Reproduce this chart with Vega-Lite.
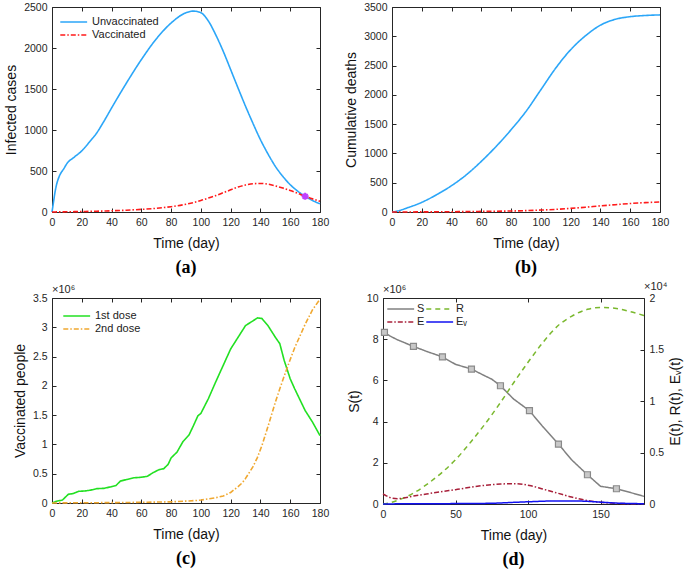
{
  "$schema": "https://vega.github.io/schema/vega-lite/v6.json",
  "padding": {"left": 4, "top": 1, "right": 5, "bottom": 3},
  "background": "white",
  "config": {
    "font": "Liberation Sans",
    "numberFormat": "d",
    "view": {"stroke": "#262626", "strokeWidth": 1},
    "axis": {"domain": false, "grid": false, "tickSize": -4, "tickColor": "#262626", "tickWidth": 1, "labelFlush": false,
      "labelFont": "Liberation Sans", "labelFontSize": 10.5, "labelColor": "#262626", "labelPadding": 9,
      "titleFont": "Liberation Sans", "titleFontSize": 14, "titleFontWeight": "normal", "titleColor": "#111", "titlePadding": 5},
    "axisX": {"titlePadding": 9},
    "legend": {"orient": "top-left", "symbolType": "M-1,0H3", "symbolSize": 180, "symbolStrokeWidth": 1.6,
      "labelFont": "Liberation Sans", "labelFontSize": 11, "labelColor": "#222", "rowPadding": 0, "offset": 7, "padding": 0, "labelOffset": 17},
    "title": {"orient": "bottom", "font": "Liberation Serif", "fontSize": 18, "fontWeight": "bold", "color": "#000", "offset": 8}
  },
  "resolve": {"scale": {"color": "independent", "strokeDash": "independent"}, "legend": {"color": "independent", "strokeDash": "independent"}},
  "vconcat": [
    {
      "resolve": {"scale": {"color": "independent", "strokeDash": "independent"}, "legend": {"color": "independent", "strokeDash": "independent"}},
      "hconcat": [
        {
          "width": 268, "height": 205,
          "title": {"text": "(a)"},
          "data": {"values": [
            {"t":0,"Unvaccinated":0,"Vaccinated":0},{"t":1,"Unvaccinated":120,"Vaccinated":0},{"t":2,"Unvaccinated":240,"Vaccinated":0.5},
            {"t":3,"Unvaccinated":330,"Vaccinated":1},{"t":5,"Unvaccinated":440,"Vaccinated":1},{"t":8,"Unvaccinated":530,"Vaccinated":2},
            {"t":10,"Unvaccinated":590,"Vaccinated":3},{"t":15,"Unvaccinated":670,"Vaccinated":4},{"t":20,"Unvaccinated":745,"Vaccinated":6},
            {"t":25,"Unvaccinated":850,"Vaccinated":8},{"t":30,"Unvaccinated":963,"Vaccinated":10},{"t":35,"Unvaccinated":1110,"Vaccinated":12},
            {"t":40,"Unvaccinated":1268,"Vaccinated":15},{"t":50,"Unvaccinated":1573,"Vaccinated":22},{"t":60,"Unvaccinated":1858,"Vaccinated":32},
            {"t":70,"Unvaccinated":2110,"Vaccinated":45},{"t":80,"Unvaccinated":2305,"Vaccinated":65},{"t":90,"Unvaccinated":2430,"Vaccinated":95},
            {"t":95,"Unvaccinated":2450,"Vaccinated":115},{"t":100,"Unvaccinated":2430,"Vaccinated":140},{"t":105,"Unvaccinated":2330,"Vaccinated":170},
            {"t":110,"Unvaccinated":2160,"Vaccinated":200},{"t":115,"Unvaccinated":1960,"Vaccinated":235},{"t":120,"Unvaccinated":1736,"Vaccinated":270},
            {"t":125,"Unvaccinated":1510,"Vaccinated":305},{"t":130,"Unvaccinated":1289,"Vaccinated":330},{"t":135,"Unvaccinated":1080,"Vaccinated":345},
            {"t":140,"Unvaccinated":882,"Vaccinated":348},{"t":145,"Unvaccinated":710,"Vaccinated":340},{"t":150,"Unvaccinated":557,"Vaccinated":318},
            {"t":155,"Unvaccinated":435,"Vaccinated":292},{"t":160,"Unvaccinated":333,"Vaccinated":262},{"t":165,"Unvaccinated":255,"Vaccinated":228},
            {"t":170,"Unvaccinated":191,"Vaccinated":191},{"t":175,"Unvaccinated":140,"Vaccinated":160},{"t":180,"Unvaccinated":100,"Vaccinated":130}
          ]},
          "layer": [
            {
              "transform": [{"fold": ["Unvaccinated", "Vaccinated"], "as": ["series", "value"]}],
              "mark": {"type": "line", "strokeWidth": 1.6, "interpolate": "monotone"},
              "encoding": {
                "x": {"field": "t", "type": "quantitative", "scale": {"domain": [0, 180], "nice": false}, "axis": {"values": [0,20,40,60,80,100,120,140,160,180], "title": "Time (day)"}},
                "y": {"field": "value", "type": "quantitative", "scale": {"domain": [0, 2500], "nice": false}, "axis": {"values": [0,500,1000,1500,2000,2500], "title": "Infected cases"}},
                "color": {"field": "series", "type": "nominal", "scale": {"domain": ["Unvaccinated", "Vaccinated"], "range": ["#2BA6F8", "#FF1A1A"]}, "legend": {"title": null}},
                "strokeDash": {"field": "series", "type": "nominal", "scale": {"domain": ["Unvaccinated", "Vaccinated"], "range": [[1, 0], [5, 2, 1.5, 2]]}, "legend": {"title": null}}
              }
            },
            {
              "mark": {"type": "point", "opacity": 0},
              "encoding": {
                "x": {"field": "t", "type": "quantitative", "scale": {"domain": [0, 180], "nice": false}, "axis": {"orient": "top", "values": [0,20,40,60,80,100,120,140,160,180], "labels": false, "title": null}},
                "y": {"field": "Unvaccinated", "type": "quantitative", "scale": {"domain": [0, 2500], "nice": false}, "axis": {"orient": "right", "values": [0,500,1000,1500,2000,2500], "labels": false, "title": null}}
              }
            },
            {
              "transform": [{"filter": "datum.t == 170"}],
              "mark": {"type": "point", "shape": "M-1,0L1,0M0,-1L0,1M-0.7,-0.7L0.7,0.7M-0.7,0.7L0.7,-0.7", "filled": false, "color": "#C040FF", "strokeWidth": 2, "size": 50, "opacity": 1},
              "encoding": {
                "x": {"field": "t", "type": "quantitative", "axis": null},
                "y": {"field": "Vaccinated", "type": "quantitative", "axis": null}
              }
            }
          ],
          "resolve": {"axis": {"x": "independent", "y": "independent"}}
        },
        {
          "width": 268, "height": 205,
          "title": {"text": "(b)"},
          "data": {"values": [
            {"t":0,"Unvaccinated":0,"Vaccinated":0},{"t":5,"Unvaccinated":25,"Vaccinated":1},{"t":10,"Unvaccinated":68,"Vaccinated":1},
            {"t":20,"Unvaccinated":165,"Vaccinated":2},{"t":30,"Unvaccinated":296,"Vaccinated":3},{"t":40,"Unvaccinated":450,"Vaccinated":5},
            {"t":50,"Unvaccinated":637,"Vaccinated":7},{"t":60,"Unvaccinated":865,"Vaccinated":10},{"t":70,"Unvaccinated":1121,"Vaccinated":13},
            {"t":80,"Unvaccinated":1405,"Vaccinated":17},{"t":90,"Unvaccinated":1718,"Vaccinated":24},{"t":100,"Unvaccinated":2088,"Vaccinated":33},
            {"t":110,"Unvaccinated":2458,"Vaccinated":45},{"t":120,"Unvaccinated":2771,"Vaccinated":62},{"t":130,"Unvaccinated":3010,"Vaccinated":82},
            {"t":140,"Unvaccinated":3190,"Vaccinated":105},{"t":150,"Unvaccinated":3290,"Vaccinated":125},{"t":160,"Unvaccinated":3335,"Vaccinated":145},
            {"t":170,"Unvaccinated":3355,"Vaccinated":160},{"t":180,"Unvaccinated":3365,"Vaccinated":170}
          ]},
          "layer": [
            {
              "transform": [{"fold": ["Unvaccinated", "Vaccinated"], "as": ["series", "value"]}],
              "mark": {"type": "line", "strokeWidth": 1.6, "interpolate": "monotone"},
              "encoding": {
                "x": {"field": "t", "type": "quantitative", "scale": {"domain": [0, 180], "nice": false}, "axis": {"values": [0,20,40,60,80,100,120,140,160,180], "title": "Time (day)"}},
                "y": {"field": "value", "type": "quantitative", "scale": {"domain": [0, 3500], "nice": false}, "axis": {"values": [0,500,1000,1500,2000,2500,3000,3500], "title": "Cumulative deaths"}},
                "color": {"field": "series", "type": "nominal", "scale": {"domain": ["Unvaccinated", "Vaccinated"], "range": ["#2BA6F8", "#FF1A1A"]}, "legend": null},
                "strokeDash": {"field": "series", "type": "nominal", "scale": {"domain": ["Unvaccinated", "Vaccinated"], "range": [[1, 0], [5, 2, 1.5, 2]]}, "legend": null}
              }
            },
            {
              "mark": {"type": "point", "opacity": 0},
              "encoding": {
                "x": {"field": "t", "type": "quantitative", "scale": {"domain": [0, 180], "nice": false}, "axis": {"orient": "top", "values": [0,20,40,60,80,100,120,140,160,180], "labels": false, "title": null}},
                "y": {"field": "Unvaccinated", "type": "quantitative", "scale": {"domain": [0, 3500], "nice": false}, "axis": {"orient": "right", "values": [0,500,1000,1500,2000,2500,3000,3500], "labels": false, "title": null}}
              }
            }
          ],
          "resolve": {"axis": {"x": "independent", "y": "independent"}}
        }
      ],
      "spacing": 72,
      "bounds": "flush"
    },
    {
      "resolve": {"scale": {"color": "independent", "strokeDash": "independent"}, "legend": {"color": "independent", "strokeDash": "independent"}},
      "hconcat": [
        {
          "width": 268, "height": 205,
          "title": {"text": "(c)"},
          "data": {"values": [
            {"t":0,"1st dose":0,"2nd dose":0},{"t":3,"1st dose":30000,"2nd dose":1000},{"t":7,"1st dose":50000,"2nd dose":2000},
            {"t":9,"1st dose":100000,"2nd dose":2000},{"t":11,"1st dose":150000,"2nd dose":3000},{"t":14,"1st dose":160000,"2nd dose":3000},
            {"t":18,"1st dose":200000,"2nd dose":4000},{"t":22,"1st dose":205000,"2nd dose":4000},{"t":26,"1st dose":220000,"2nd dose":5000},
            {"t":30,"1st dose":245000,"2nd dose":5000},{"t":35,"1st dose":250000,"2nd dose":6000},{"t":40,"1st dose":280000,"2nd dose":7000},
            {"t":43,"1st dose":300000,"2nd dose":7000},{"t":46,"1st dose":375000,"2nd dose":8000},{"t":50,"1st dose":400000,"2nd dose":9000},
            {"t":55,"1st dose":430000,"2nd dose":10000},{"t":60,"1st dose":440000,"2nd dose":12000},{"t":64,"1st dose":455000,"2nd dose":13000},
            {"t":68,"1st dose":520000,"2nd dose":15000},{"t":72,"1st dose":570000,"2nd dose":17000},{"t":75,"1st dose":585000,"2nd dose":18000},
            {"t":78,"1st dose":660000,"2nd dose":19000},{"t":80,"1st dose":770000,"2nd dose":20000},{"t":84,"1st dose":870000,"2nd dose":25000},
            {"t":88,"1st dose":1050000,"2nd dose":30000},{"t":92,"1st dose":1160000,"2nd dose":35000},{"t":95,"1st dose":1320000,"2nd dose":40000},
            {"t":98,"1st dose":1490000,"2nd dose":45000},{"t":100,"1st dose":1530000,"2nd dose":50000},{"t":105,"1st dose":1780000,"2nd dose":70000},
            {"t":110,"1st dose":2070000,"2nd dose":90000},{"t":115,"1st dose":2350000,"2nd dose":120000},{"t":120,"1st dose":2630000,"2nd dose":180000},
            {"t":125,"1st dose":2830000,"2nd dose":280000},{"t":128,"1st dose":2950000,"2nd dose":350000},{"t":130,"1st dose":3030000,"2nd dose":420000},
            {"t":135,"1st dose":3110000,"2nd dose":620000},{"t":138,"1st dose":3160000,"2nd dose":780000},{"t":141,"1st dose":3150000,"2nd dose":980000},
            {"t":145,"1st dose":3030000,"2nd dose":1300000},{"t":150,"1st dose":2830000,"2nd dose":1720000},{"t":153,"1st dose":2720000,"2nd dose":1950000},
            {"t":156,"1st dose":2430000,"2nd dose":2170000},{"t":160,"1st dose":2120000,"2nd dose":2450000},{"t":163,"1st dose":1950000,"2nd dose":2650000},
            {"t":170,"1st dose":1580000,"2nd dose":3050000},{"t":175,"1st dose":1380000,"2nd dose":3300000},{"t":180,"1st dose":1150000,"2nd dose":3480000}
          ]},
          "layer": [
            {
              "transform": [{"fold": ["1st dose", "2nd dose"], "as": ["series", "value"]}],
              "mark": {"type": "line", "strokeWidth": 1.6},
              "encoding": {
                "x": {"field": "t", "type": "quantitative", "scale": {"domain": [0, 180], "nice": false}, "axis": {"values": [0,20,40,60,80,100,120,140,160,180], "title": "Time (day)"}},
                "y": {"field": "value", "type": "quantitative", "scale": {"domain": [0, 3500000], "nice": false}, "axis": {"values": [0,500000,1000000,1500000,2000000,2500000,3000000,3500000], "labelExpr": "datum.value / 1000000", "title": "Vaccinated people"}},
                "color": {"field": "series", "type": "nominal", "scale": {"domain": ["1st dose", "2nd dose"], "range": ["#22E022", "#F0A830"]}, "legend": {"title": null, "offset": 10}},
                "strokeDash": {"field": "series", "type": "nominal", "scale": {"domain": ["1st dose", "2nd dose"], "range": [[1, 0], [5, 2, 1.5, 2]]}, "legend": {"title": null, "offset": 10}}
              }
            },
            {
              "mark": {"type": "point", "opacity": 0},
              "encoding": {
                "x": {"field": "t", "type": "quantitative", "scale": {"domain": [0, 180], "nice": false}, "axis": {"orient": "top", "values": [0,20,40,60,80,100,120,140,160,180], "labels": false, "title": null}},
                "y": {"field": "1st dose", "type": "quantitative", "scale": {"domain": [0, 3500000], "nice": false}, "axis": {"orient": "right", "values": [0,500000,1000000,1500000,2000000,2500000,3000000,3500000], "labels": false, "title": null}}
              }
            },
            {
              "data": {"values": [{"note": "×10⁶"}]},
              "mark": {"type": "text", "align": "left", "baseline": "bottom", "dy": -3, "fontSize": 11, "color": "#262626"},
              "encoding": {
                "text": {"field": "note"},
                "x": {"datum": 0, "type": "quantitative", "axis": null},
                "y": {"datum": 3500000, "type": "quantitative", "axis": null}
              }
            }
          ],
          "resolve": {"axis": {"x": "independent", "y": "independent"}}
        },
        {
          "width": 261, "height": 206,
          "title": {"text": "(d)"},
          "data": {"values": [
            {"t":0,"S":8350000,"E":970,"R":0,"Ev":10},{"t":1,"S":8330000,"E":900,"R":20,"Ev":10},{"t":5,"S":8150000,"E":620,"R":120,"Ev":10},
            {"t":10,"S":7970000,"E":520,"R":360,"Ev":15},{"t":21,"S":7650000,"E":770,"R":1050,"Ev":20},{"t":30,"S":7410000,"E":970,"R":1880,"Ev":25},
            {"t":41,"S":7140000,"E":1220,"R":3100,"Ev":30},{"t":50,"S":6780000,"E":1390,"R":4300,"Ev":40},{"t":61,"S":6550000,"E":1640,"R":6100,"Ev":50},
            {"t":70,"S":6230000,"E":1810,"R":7700,"Ev":60},{"t":75,"S":6060000,"E":1880,"R":8650,"Ev":70},{"t":81,"S":5740000,"E":1940,"R":9850,"Ev":100},
            {"t":90,"S":5100000,"E":1970,"R":11750,"Ev":160},{"t":101,"S":4530000,"E":1800,"R":13950,"Ev":220},{"t":110,"S":3770000,"E":1460,"R":15630,"Ev":270},
            {"t":121,"S":2910000,"E":1030,"R":17350,"Ev":300},{"t":130,"S":2150000,"E":680,"R":18220,"Ev":300},{"t":141,"S":1420000,"E":340,"R":18900,"Ev":260},
            {"t":150,"S":860000,"E":160,"R":19090,"Ev":180},{"t":161,"S":740000,"E":60,"R":18980,"Ev":90},{"t":170,"S":570000,"E":30,"R":18700,"Ev":50},
            {"t":180,"S":370000,"E":20,"R":18300,"Ev":30}
          ]},
          "layer": [
            {
              "mark": {"type": "line", "strokeWidth": 1.5},
              "encoding": {
                "x": {"field": "t", "type": "quantitative", "scale": {"domain": [0, 180], "nice": false}, "axis": {"values": [0,50,100,150], "title": "Time (day)"}},
                "y": {"field": "S", "type": "quantitative", "scale": {"domain": [0, 10000000], "nice": false}, "axis": {"values": [0,2000000,4000000,6000000,8000000,10000000], "labelExpr": "datum.value / 1000000", "title": "S(t)"}},
                "color": {"datum": "S", "type": "nominal", "scale": {"domain": ["S", "E", "R", "Ev"], "range": ["#808080", "#A8203A", "#7AB82E", "#1010F0"]}, "legend": {"title": null, "columns": 2, "columnPadding": -4, "labelOffset": 15, "offset": 3, "labelExpr": "datum.label == 'Ev' ? 'Eᵥ' : datum.label"}},
                "strokeDash": {"datum": "S", "type": "nominal", "scale": {"domain": ["S", "E", "R", "Ev"], "range": [[1, 0], [5, 2, 1.5, 2], [5, 4], [1, 0]]}, "legend": {"title": null, "columns": 2, "columnPadding": -4, "labelOffset": 15, "offset": 3, "labelExpr": "datum.label == 'Ev' ? 'Eᵥ' : datum.label"}}
              }
            },
            {
              "transform": [{"filter": "(datum.t - 1) % 20 == 0"}],
              "mark": {"type": "point", "shape": "square", "fill": "#C8C8C8", "stroke": "#8A8A8A", "strokeWidth": 1.2, "size": 36, "opacity": 1, "filled": true},
              "encoding": {
                "x": {"field": "t", "type": "quantitative", "axis": null},
                "y": {"field": "S", "type": "quantitative", "scale": {"domain": [0, 10000000], "nice": false}, "axis": null}
              }
            },
            {
              "transform": [{"fold": ["R", "E", "Ev"], "as": ["series", "value"]}],
              "mark": {"type": "line", "strokeWidth": 1.5, "interpolate": "monotone"},
              "encoding": {
                "x": {"field": "t", "type": "quantitative", "axis": {"orient": "top", "values": [0,50,100,150], "labels": false, "title": null}},
                "y": {"field": "value", "type": "quantitative", "scale": {"domain": [0, 20000], "nice": false}, "axis": {"orient": "right", "values": [0,5000,10000,15000,20000], "labelExpr": "datum.value / 10000", "title": "E(t), R(t), Eᵥ(t)", "titleAngle": 270, "titleBaseline": "top"}},
                "color": {"field": "series", "type": "nominal", "scale": {"domain": ["S", "E", "R", "Ev"], "range": ["#808080", "#A8203A", "#7AB82E", "#1010F0"]}, "legend": {"title": null, "columns": 2, "columnPadding": -4, "labelOffset": 15, "offset": 3, "labelExpr": "datum.label == 'Ev' ? 'Eᵥ' : datum.label"}},
                "strokeDash": {"field": "series", "type": "nominal", "scale": {"domain": ["S", "E", "R", "Ev"], "range": [[1, 0], [5, 2, 1.5, 2], [5, 4], [1, 0]]}, "legend": {"title": null, "columns": 2, "columnPadding": -4, "labelOffset": 15, "offset": 3, "labelExpr": "datum.label == 'Ev' ? 'Eᵥ' : datum.label"}}
              }
            },
            {
              "data": {"values": [{"note": "×10⁶"}]},
              "mark": {"type": "text", "align": "left", "baseline": "bottom", "dy": -3, "fontSize": 11, "color": "#262626"},
              "encoding": {
                "text": {"field": "note"},
                "x": {"datum": 0, "type": "quantitative", "axis": null},
                "y": {"datum": 10000000, "type": "quantitative", "scale": {"domain": [0, 10000000], "nice": false}, "axis": null}
              }
            },
            {
              "data": {"values": [{"note": "×10⁴"}]},
              "mark": {"type": "text", "align": "left", "baseline": "bottom", "dy": -6, "fontSize": 11, "color": "#262626"},
              "encoding": {
                "text": {"field": "note"},
                "x": {"datum": 180, "type": "quantitative", "axis": null},
                "y": {"datum": 20000, "type": "quantitative", "scale": {"domain": [0, 20000], "nice": false}, "axis": null}
              }
            }
          ],
          "resolve": {"scale": {"y": "independent"}, "axis": {"x": "independent", "y": "independent"}}
        }
      ],
      "spacing": 63,
      "bounds": "flush"
    }
  ],
  "spacing": 3
}
